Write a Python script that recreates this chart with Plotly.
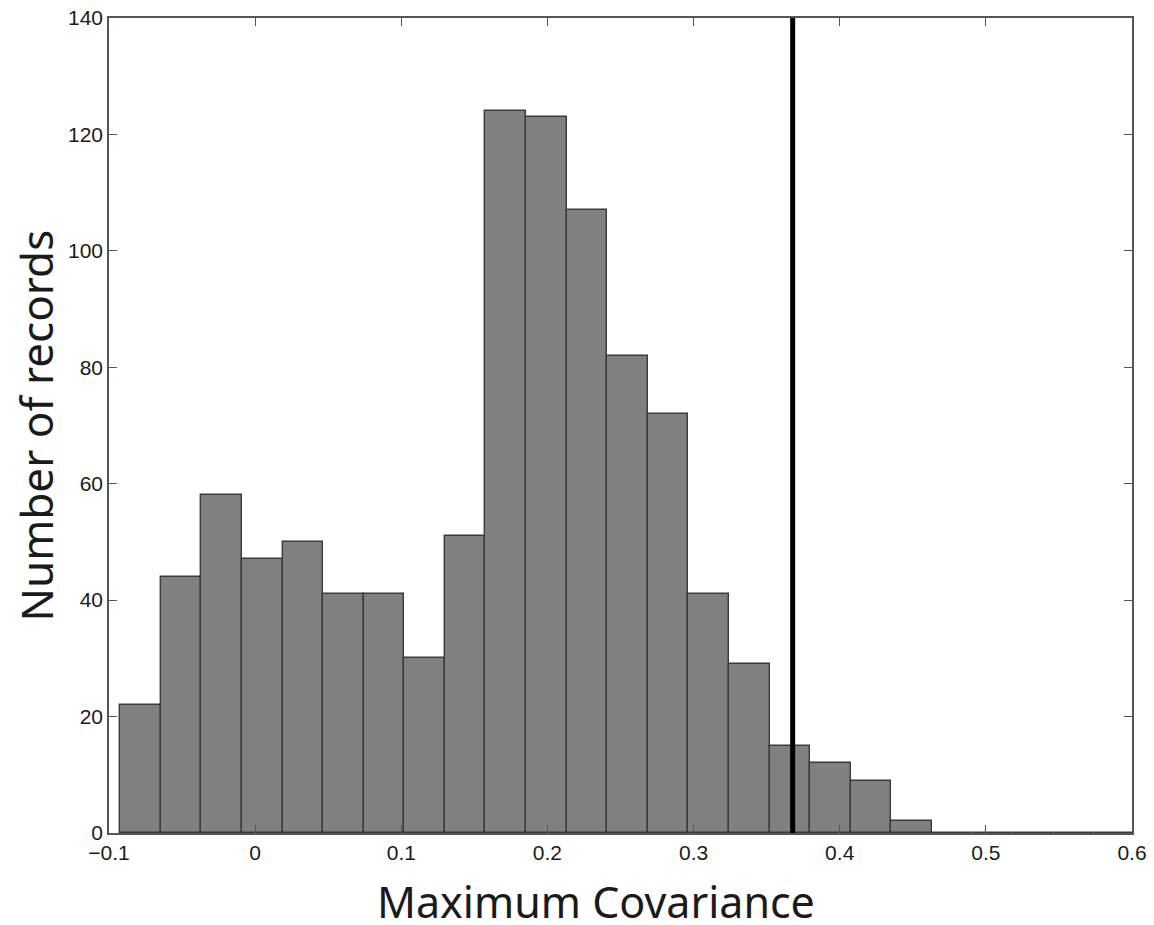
import plotly.graph_objects as go

# Histogram bin edges (Maximum Covariance) and counts per bin
bin_edges = [-0.0923, -0.0645, -0.0368, -0.0090, 0.0188, 0.0465, 0.0743, 0.1021,
             0.1298, 0.1576, 0.1854, 0.2131, 0.2409, 0.2687, 0.2965, 0.3242,
             0.3520, 0.3798, 0.4075, 0.4353, 0.4631, 0.4908, 0.5186, 0.5464,
             0.5742, 0.6019]
counts = [22, 44, 58, 47, 50, 41, 41, 30, 51, 124, 123, 107, 82, 72, 41, 29,
          15, 12, 9, 2, 0, 0, 0, 0, 0]
threshold = 0.3678

x_ticks = [-0.1, 0, 0.1, 0.2, 0.3, 0.4, 0.5, 0.6]
x_ticklabels = ["−0.1", "0", "0.1", "0.2", "0.3", "0.4", "0.5", "0.6"]
y_ticks = [0, 20, 40, 60, 80, 100, 120, 140]

centers = [(bin_edges[i] + bin_edges[i + 1]) / 2 for i in range(len(counts))]
widths = [bin_edges[i + 1] - bin_edges[i] for i in range(len(counts))]

fig = go.Figure()
fig.add_trace(go.Bar(
    x=centers, y=counts, width=widths,
    marker=dict(color="#808080", line=dict(color="#3a3a3a", width=1.4)),
    showlegend=False, hoverinfo="x+y",
))

fig.add_shape(type="line", xref="x", yref="paper", x0=threshold, x1=threshold,
              y0=0, y1=1, line=dict(color="black", width=5), layer="above")

axis_common = dict(
    showline=True, linecolor="#555555", linewidth=1.5, mirror="ticks",
    ticks="inside", ticklen=8, tickwidth=1.2, tickcolor="#555555",
    showgrid=False, zeroline=False, automargin=False,
    tickfont=dict(family="Liberation Sans, Arial, sans-serif", size=21, color="#1a1a1a"),
)

fig.update_layout(
    width=1154, height=925,
    margin=dict(l=109, r=22, t=18, b=92, autoexpand=False),
    paper_bgcolor="white", plot_bgcolor="white",
    bargap=0,
    xaxis=dict(range=[-0.1, 0.6], tickvals=x_ticks, ticktext=x_ticklabels, **axis_common),
    yaxis=dict(range=[0, 140], tickvals=y_ticks, **axis_common),
    annotations=[
        dict(text="Maximum Covariance", xref="paper", yref="paper", x=0.5, y=0,
             xanchor="center", yanchor="middle", yshift=-68, xshift=-25,
             showarrow=False,
             font=dict(family="Noto Sans, sans-serif", size=43, color="#1a1a1a")),
        dict(text="Number of records", xref="paper", yref="paper", x=0, y=0.5,
             xanchor="center", yanchor="middle", xshift=-74, textangle=-90,
             showarrow=False,
             font=dict(family="Noto Sans, sans-serif", size=44, color="#1a1a1a")),
    ],
)

fig.write_html("out.html")
